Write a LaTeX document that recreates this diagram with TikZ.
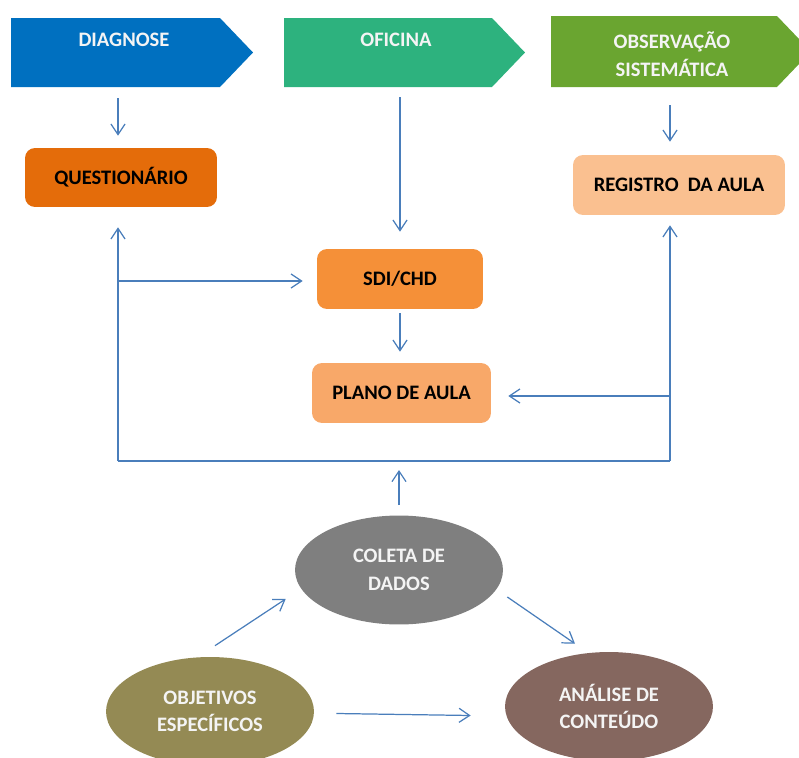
\documentclass[tikz,border=0pt]{standalone}
\usepackage{fontspec}
\setmainfont{Carlito}
\usetikzlibrary{arrows.meta,shapes.geometric}

\definecolor{diagblue}{HTML}{0070C0}
\definecolor{oficgreen}{HTML}{2DB27E}
\definecolor{obsgreen}{HTML}{6AA530}
\definecolor{questorange}{HTML}{E46C0A}
\definecolor{sdiorange}{HTML}{F59038}
\definecolor{planoorange}{HTML}{F8A869}
\definecolor{regorange}{HTML}{FAC090}
\definecolor{colgray}{HTML}{7F7F7F}
\definecolor{objolive}{HTML}{948A54}
\definecolor{anabrown}{HTML}{85675F}
\definecolor{flowblue}{HTML}{4A7EBB}
\definecolor{softwhite}{HTML}{F4F4F4}

\begin{document}
\begin{tikzpicture}[x=0.02cm,y=-0.02cm,
  txt/.style={font=\bfseries\fontsize{11.7}{15.6}\selectfont, align=center},
  box/.style={txt, rounded corners=0.2cm, inner sep=0pt, minimum height=1.2cm},
  blob/.style={txt, ellipse, inner sep=0pt, minimum width=4.16cm, minimum height=2.18cm, text=softwhite},
  link/.style={draw=flowblue, line width=0.7pt},
  flow/.style={link, -{Straight Barb[length=6pt,width=8pt]}}]
            \useasboundingbox (0,0) rectangle (799,758);

            % banners
            \fill[diagblue] (11,18) -- (220,18) -- (253,52.5) -- (220,87) -- (11,87) -- cycle;
            \fill[oficgreen] (284,18) -- (492,18) -- (525,52.5) -- (492,87) -- (284,87) -- cycle;
            \fill[obsgreen] (551,16) -- (777,16) -- (811,51.5) -- (777,87) -- (551,87) -- cycle;
            \node[txt, text=softwhite] (diag) at (124,40) {DIAGNOSE};
            \node[txt, text=softwhite] (ofic) at (396,40) {OFICINA};
            \node[txt, text=softwhite, font=\bfseries\fontsize{11.7}{16.2}\selectfont] (obs) at (672,54) {OBSERVAÇÃO\\SISTEMÁTICA};
            \coordinate (diagout) at (118,98);
            \coordinate (oficout) at (400,97);
            \coordinate (obsout) at (670,105);

            % boxes
            \node[box, fill=questorange, minimum width=3.84cm, minimum height=1.18cm] (quest) at (121,177.5) {QUESTIONÁRIO};
            \node[box, fill=sdiorange, minimum width=3.32cm] (sdi) at (400,279) {SDI/CHD};
            \node[box, fill=planoorange, minimum width=3.58cm] (plano) at (401.5,393) {PLANO DE AULA};
            \node[box, fill=regorange, minimum width=4.24cm] (reg) at (679,185) {REGISTRO~ DA AULA};

            % ellipses
            \node[blob, fill=colgray] (col) at (399,570) {COLETA DE\\DADOS};
            \node[blob, fill=objolive] (obj) at (210,711.5) {OBJETIVOS\\ESPECÍFICOS};
            \node[blob, fill=anabrown] (ana) at (609,706.5) {ANÁLISE DE\\CONTEÚDO};

            \coordinate (lowleft) at (118,461);
            \coordinate (lowmid) at (400,461);
            \coordinate (lowright) at (670,461);
            \coordinate (tosdi) at (118,281);
            \coordinate (toplano) at (670,396);

            \draw[flow, shorten >=0.24cm] (diagout) -- (diagout |- quest.north);
            \draw[flow, shorten >=0.34cm] (oficout) -- (oficout |- sdi.north);
            \draw[flow, shorten >=0.26cm] (obsout) -- (obsout |- reg.north);

            \draw[link] (lowleft) -- (lowright);
            \draw[flow, shorten >=0.4cm] (lowleft) -- (lowleft |- quest.south);
            \draw[flow, shorten >=0.2cm] (lowright) -- (lowright |- reg.south);
            \draw[flow, shorten >=0.28cm] (tosdi) -- (tosdi -| sdi.west);
            \draw[flow, shorten >=0.34cm] (toplano) -- (toplano -| plano.east);
            \draw[flow, shorten <=0.08cm, shorten >=0.22cm] (sdi.south) -- (sdi.south |- plano.north);
            \draw[flow, shorten <=0.2cm, shorten >=0.18cm] (col.north) -- (col.north |- lowmid);

            \draw[flow] ([shift={(0.1cm,0.22cm)}]obj.north) -- ([shift={(-0.18cm,-0.58cm)}]col.west);
            \draw[flow] ([shift={(0.08cm,-0.54cm)}]col.east) -- ([shift={(-0.68cm,0.16cm)}]ana.north);
            \draw[flow] ([shift={(0.44cm,-0.04cm)}]obj.east) -- ([shift={(-0.68cm,-0.18cm)}]ana.west);
        \end{tikzpicture}
\end{document}
